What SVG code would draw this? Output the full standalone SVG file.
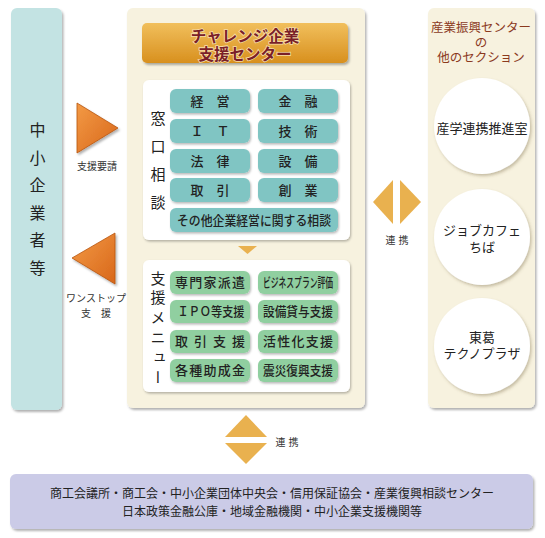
<svg xmlns="http://www.w3.org/2000/svg" width="545" height="538" viewBox="0 0 545 538">
<defs>
<filter id="sh" x="-10%" y="-10%" width="120%" height="120%"><feDropShadow dx="1.5" dy="2" stdDeviation="1.2" flood-color="#000" flood-opacity="0.3"/></filter>
<filter id="shs" x="-10%" y="-10%" width="130%" height="140%"><feDropShadow dx="1" dy="1.5" stdDeviation="0.8" flood-color="#000" flood-opacity="0.28"/></filter>
<filter id="shc" x="-10%" y="-10%" width="130%" height="130%"><feDropShadow dx="1.5" dy="2" stdDeviation="1.5" flood-color="#6b5a30" flood-opacity="0.35"/></filter>
<linearGradient id="gold" x1="0" y1="0" x2="0" y2="1"><stop offset="0" stop-color="#f1bf5c"/><stop offset="1" stop-color="#d8901e"/></linearGradient>
<linearGradient id="org" x1="0" y1="0" x2="1" y2="1"><stop offset="0" stop-color="#f39a45"/><stop offset="1" stop-color="#d8671a"/></linearGradient>
<style>
text{font-family:"Liberation Sans","Noto Sans CJK JP","Noto Sans CJK SC",sans-serif;fill:#222;dominant-baseline:central}
.c{text-anchor:middle}
.panel{filter:url(#sh)}
.teal{fill:#80c5c3;filter:url(#shs)}
.grn{fill:#90cfa0;filter:url(#shs)}
.wbox{fill:#fff;filter:url(#shs)}
.bt{font-size:13px;font-weight:500;text-anchor:middle}
.lbl{font-size:10px;text-anchor:middle;fill:#333}
.tri{fill:url(#org);filter:url(#sh);stroke:#b8540f;stroke-width:0.8}
.gtri{fill:#e9b14f}
.vt{writing-mode:vertical-rl}
.rt{font-size:12.5px;fill:#8b3a1e;text-anchor:middle}
.ct{font-size:13px;text-anchor:middle}
.ttl{font-size:15.5px;font-weight:bold;text-anchor:middle;fill:#7a1f28;stroke:#f6dca8;stroke-width:1.6px;paint-order:stroke}
</style>
</defs>

<g id="smes">
<rect class="panel" x="11" y="8" width="51" height="402" rx="6" fill="#c3e3e3"/>
<text class="vt" x="36" y="122" font-size="16" style="letter-spacing:11.6px">中小企業者等</text>
</g>

<g id="center">
<rect class="panel" x="127" y="8" width="238" height="400" rx="6" fill="#f7f2df"/>
<g id="title">
<rect x="142" y="23" width="206" height="40" rx="5" fill="url(#gold)" filter="url(#sh)"/>
<text class="ttl"><tspan x="245" y="35.5">チャレンジ企業</tspan><tspan x="245" y="53.5">支援センター</tspan></text>
</g>
<g id="madoguchi">
<rect class="wbox" x="143" y="80" width="207" height="160" rx="6"/>
<text class="vt" x="157" y="110.5" font-size="15" style="letter-spacing:13px">窓口相談</text>
<rect class="teal" x="170" y="89" width="80" height="24" rx="6"/>
<text class="bt" x="210" y="101">経　営</text>
<rect class="teal" x="258" y="89" width="80" height="24" rx="6"/>
<text class="bt" x="298" y="101">金　融</text>
<rect class="teal" x="170" y="119" width="80" height="24" rx="6"/>
<text class="bt" x="210" y="131">Ｉ　Ｔ</text>
<rect class="teal" x="258" y="119" width="80" height="24" rx="6"/>
<text class="bt" x="298" y="131">技　術</text>
<rect class="teal" x="170" y="149" width="80" height="24" rx="6"/>
<text class="bt" x="210" y="161">法　律</text>
<rect class="teal" x="258" y="149" width="80" height="24" rx="6"/>
<text class="bt" x="298" y="161">設　備</text>
<rect class="teal" x="170" y="178" width="80" height="24" rx="6"/>
<text class="bt" x="210" y="190">取　引</text>
<rect class="teal" x="258" y="178" width="80" height="24" rx="6"/>
<text class="bt" x="298" y="190">創　業</text>
<rect class="teal" x="170" y="208" width="168" height="24" rx="6"/>
<text class="bt" x="254" y="220" font-size="12.5" textLength="154" lengthAdjust="spacingAndGlyphs">その他企業経営に関する相談</text>
</g>
<g id="menu">
<rect class="wbox" x="143" y="260" width="207" height="132" rx="6"/>
<text class="vt" x="157" y="270.5" font-size="15" style="letter-spacing:4.8px">支援メニュー</text>
<rect class="grn" x="170" y="271" width="80" height="23" rx="6"/>
<text class="bt" x="210" y="282.5" textLength="70" lengthAdjust="spacing">専門家派遣</text>
<rect class="grn" x="258" y="271" width="80" height="23" rx="6"/>
<text class="bt" x="298" y="282.5" textLength="70" lengthAdjust="spacingAndGlyphs">ビジネスプラン評価</text>
<rect class="grn" x="170" y="300" width="80" height="23" rx="6"/>
<text class="bt" x="211" y="311.5" textLength="67" lengthAdjust="spacingAndGlyphs">ＩＰＯ等支援</text>
<rect class="grn" x="258" y="300" width="80" height="23" rx="6"/>
<text class="bt" x="298" y="311.5" textLength="70" lengthAdjust="spacingAndGlyphs">設備貸与支援</text>
<rect class="grn" x="170" y="330" width="80" height="23" rx="6"/>
<text class="bt" x="210" y="341.5" textLength="70" lengthAdjust="spacing">取引支援</text>
<rect class="grn" x="258" y="330" width="80" height="23" rx="6"/>
<text class="bt" x="298" y="341.5" textLength="70" lengthAdjust="spacing">活性化支援</text>
<rect class="grn" x="170" y="359" width="80" height="23" rx="6"/>
<text class="bt" x="210" y="370.5" textLength="70" lengthAdjust="spacing">各種助成金</text>
<rect class="grn" x="258" y="359" width="80" height="23" rx="6"/>
<text class="bt" x="298" y="370.5" textLength="70" lengthAdjust="spacingAndGlyphs">震災復興支援</text>
</g>
</g>

<g id="others">
<rect class="panel" x="428" y="8" width="107" height="400" rx="6" fill="#f7f2df"/>
<text class="rt"><tspan x="481" y="28">産業振興センター</tspan><tspan x="481" y="43">の</tspan><tspan x="481" y="58">他のセクション</tspan></text>
<g id="sangaku">
<circle cx="482" cy="126" r="48" fill="#fff" filter="url(#shc)"/>
<text class="ct" x="482" y="128">産学連携推進室</text>
</g>
<g id="jobcafe">
<circle cx="482" cy="237" r="48" fill="#fff" filter="url(#shc)"/>
<text class="ct"><tspan x="482" y="230">ジョブカフェ</tspan><tspan x="482" y="247">ちば</tspan></text>
</g>
<g id="tosho">
<circle cx="482" cy="346" r="48" fill="#fff" filter="url(#shc)"/>
<text class="ct"><tspan x="482" y="337">東葛</tspan><tspan x="482" y="353">テクノプラザ</tspan></text>
</g>
</g>

<g id="partners">
<rect x="10" y="474" width="523" height="55" rx="6" fill="#cbcbe7" filter="url(#sh)"/>
<text class="c" font-size="12"><tspan x="272" y="494">商工会議所・商工会・中小企業団体中央会・信用保証協会・産業復興相談センター</tspan><tspan x="272" y="512">日本政策金融公庫・地域金融機関・中小企業支援機関等</tspan></text>
</g>

<g id="connectors">
<polygon class="tri" points="77,103 118,128 77,153"/>
<text class="lbl" x="97" y="166">支援要請</text>
<polygon class="tri" points="115,233 72,258 115,284"/>
<text class="lbl"><tspan x="96" y="298">ワンストップ</tspan><tspan x="96" y="313">支　援</tspan></text>
<polygon class="gtri" points="238,246 257,246 247.5,254"/>
<polygon class="gtri" points="373,202 393,180 393,224"/>
<polygon class="gtri" points="400,180 421,202 400,224"/>
<text class="lbl" x="397" y="240">連 携</text>
<polygon class="gtri" points="225,437 246,415 267,437"/>
<polygon class="gtri" points="225,443 267,443 246,464"/>
<text class="lbl" x="287" y="442">連 携</text>
</g>
</svg>
